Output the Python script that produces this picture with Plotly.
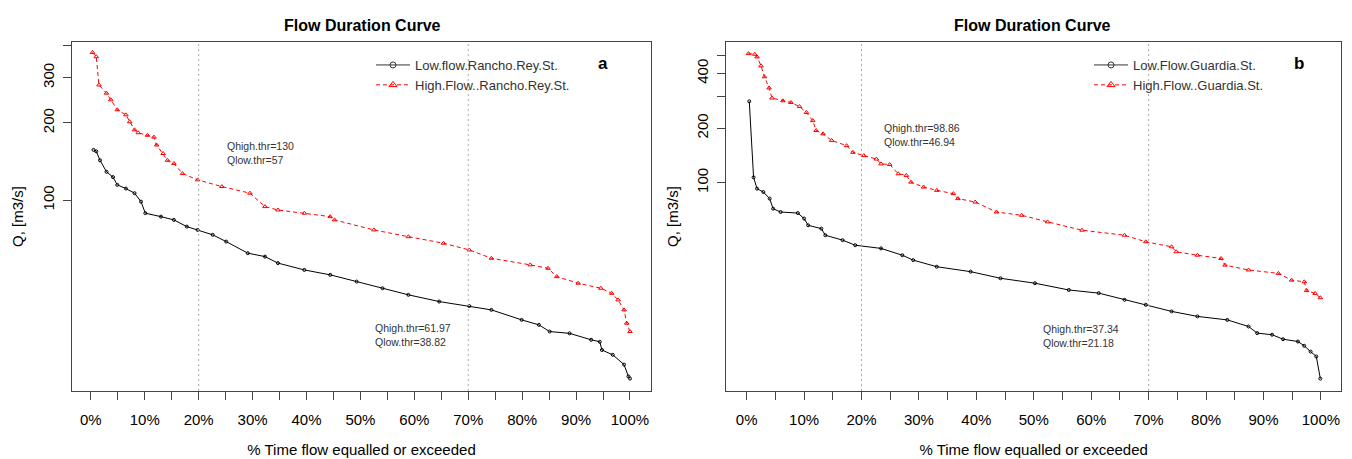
import plotly.graph_objects as go

# ---------------- data ----------------
A_HIGH_PCT = [0.3, 1.0, 1.5, 2.9, 3.7, 4.9, 6.5, 7.2, 8.1, 8.8, 10.5, 11.7, 12.2, 13.4, 14.2, 15.4, 17.0, 19.8,
              24.3, 29.5, 32.3, 34.7, 39.6, 44.4, 45.2, 52.5, 58.9, 65.4, 70.2, 74.3, 81.5, 84.8, 86.4, 90.4,
              94.6, 96.6, 97.8, 98.9, 99.4, 100]
A_HIGH_Q = [376, 362, 281, 261, 246, 225, 215, 202, 188, 183, 179, 176, 164, 152, 143, 139, 127, 120,
            113, 106.5, 94.4, 91.6, 89, 86.3, 83.8, 76.6, 72.1, 68.0, 64.0, 59.4, 56.0, 54.3, 50.4, 47.5,
            45.4, 43.4, 40.9, 37.4, 33.2, 30.8]

A_LOW_PCT = [0.5, 1.0, 1.7, 2.9, 4.1, 4.9, 6.5, 8.1, 9.3, 10.1, 13.0, 15.4, 17.8, 19.8, 22.6, 25.1, 29.1,
             32.3, 34.7, 39.6, 44.4, 49.3, 54.1, 58.9, 64.6, 70.2, 74.3, 79.9, 83.1, 85.1, 88.8, 92.8, 94.4,
             94.8, 96.8, 98.9, 99.7, 100]
A_LOW_Q = [157, 155, 143, 129, 123, 114.7, 111, 106.5, 98.7, 89, 86.3, 83.8, 78.9, 76.6, 73.3, 69.0, 62.2,
           60.3, 56.9, 53.5, 51.2, 48.2, 45.4, 42.8, 40.3, 38.7, 37.4, 34.2, 32.7, 30.8, 30.3, 28.6, 28.1,
           26.1, 25.0, 22.9, 20.6, 20.2]

B_HIGH_PCT = [0.3, 1.4, 1.8, 2.5, 3.1, 3.9, 4.4, 6.3, 7.7, 9.2, 10.4, 11.5, 12.1, 13.3, 14.8, 17.4, 18.5,
              20.4, 22.6, 23.4, 24.9, 26.4, 27.8, 28.6, 30.8, 33.1, 36.0, 36.8, 39.8, 43.5, 47.9, 52.4, 58.4,
              65.8, 69.5, 74.0, 74.8, 78.5, 82.6, 83.3, 87.4, 92.6, 94.9, 97.1, 97.5, 99.0, 99.9]
B_HIGH_Q = [515, 511, 494, 441, 384, 333, 293, 283, 277, 263, 244, 220, 194, 186, 171, 160, 147,
            141, 135, 127, 126, 112, 109.7, 100.7, 94.6, 90.7, 87.0, 81.7, 78.2, 68.9, 66.1, 60.8, 54.7,
            51.3, 47.2, 44.3, 41.6, 39.8, 38.2, 35.1, 33.0, 31.6, 29.0, 28.4, 25.4, 24.5, 23.2]

B_LOW_PCT = [0.45, 1.2, 1.8, 2.9, 4.0, 4.6, 5.9, 8.9, 10.0, 10.7, 13.0, 13.7, 16.7, 18.9, 23.4, 27.1, 29.0,
             33.1, 39.0, 44.2, 50.2, 56.1, 61.3, 65.8, 69.5, 74.0, 78.5, 83.7, 87.4, 88.9, 91.5, 93.4, 96.0,
             97.1, 98.2, 99.2, 99.9]
B_LOW_Q = [281, 107, 92.7, 88.8, 81.7, 71.9, 68.9, 68.0, 63.4, 58.2, 55.8, 51.3, 48.2, 45.2, 43.4, 39.8, 37.4,
           34.4, 32.3, 29.7, 27.9, 25.6, 24.6, 22.6, 21.2, 19.5, 18.3, 17.5, 16.1, 14.8, 14.5, 13.7, 13.3,
           12.6, 11.7, 11.0, 8.3]

NAMES_A = ["Low.flow.Rancho.Rey.St.", "High.Flow..Rancho.Rey.St."]
NAMES_B = ["Low.Flow.Guardia.St.", "High.Flow..Guardia.St."]
THRESH_PCT = [20, 70]
THR_TEXT_A = ["Qhigh.thr=130<br>Qlow.thr=57", "Qhigh.thr=61.97<br>Qlow.thr=38.82"]
THR_TEXT_B = ["Qhigh.thr=98.86<br>Qlow.thr=46.94", "Qhigh.thr=37.34<br>Qlow.thr=21.18"]
PANEL_LABELS = ["a", "b"]
X_TICKS = list(range(0, 101, 5))
X_TICKTEXT = [f"{v}%" if v % 10 == 0 else "" for v in X_TICKS]
YA_TICKS = [100, 200, 300, 400]
YA_TEXT = ["100", "200", "300", ""]
YB_TICKS = [100, 200, 300, 400, 500]
YB_TEXT = ["100", "200", "", "400", ""]

# ---------------- figure ----------------
OFF = 8  # page body margin of the html page
W, H = 1352 - OFF, 459 - OFF
FONT = "Liberation Sans, Arial, sans-serif"
AX = "#444444"


def px(x):
    return (x - OFF) / W


def py(y):
    return 1 - (y - OFF) / H


fig = go.Figure()


def add_panel(xa, ya, low_x, low_y, high_x, high_y, names, legend):
    fig.add_trace(go.Scatter(x=low_x, y=low_y, mode="lines+markers", xaxis=xa, yaxis=ya,
                             line=dict(color="black", width=1),
                             marker=dict(symbol="circle-open", size=3, color="black", line=dict(width=1)),
                             showlegend=False, hoverinfo="x+y"))
    fig.add_trace(go.Scatter(x=high_x, y=high_y, mode="lines+markers", xaxis=xa, yaxis=ya,
                             line=dict(color="red", width=1, dash="4px,3px"),
                             marker=dict(symbol="triangle-up-open", size=4, color="red", line=dict(width=1)),
                             showlegend=False, hoverinfo="x+y"))
    # legend entries
    fig.add_trace(go.Scatter(x=[None], y=[None], mode="lines+markers", xaxis=xa, yaxis=ya, name=names[0],
                             line=dict(color="#333333", width=1),
                             marker=dict(symbol="circle-open", size=6, color="#333333", line=dict(width=1)),
                             legend=legend))
    fig.add_trace(go.Scatter(x=[None], y=[None], mode="lines+markers", xaxis=xa, yaxis=ya, name=names[1],
                             line=dict(color="red", width=1, dash="4px,3px"),
                             marker=dict(symbol="triangle-up-open", size=7, color="red", line=dict(width=1)),
                             legend=legend))


add_panel("x", "y", A_LOW_PCT, A_LOW_Q, A_HIGH_PCT, A_HIGH_Q, NAMES_A, "legend")
add_panel("x2", "y2", B_LOW_PCT, B_LOW_Q, B_HIGH_PCT, B_HIGH_Q, NAMES_B, "legend2")

ydom = [py(391), py(42)]
xdom_a = [px(72), px(651)]
xdom_b = [px(726.3), px(1341)]

xcommon = dict(tickmode="array", tickvals=X_TICKS, ticktext=X_TICKTEXT, ticks="outside", ticklen=8,
               tickcolor=AX, showline=True, linecolor=AX, linewidth=1, mirror=True, showgrid=False,
               zeroline=False, tickfont=dict(size=15, color="black", family=FONT), ticklabelstandoff=7,
               title=dict(text="% Time flow equalled or exceeded", font=dict(size=15, color="black", family=FONT),
                          standoff=17))
ycommon = dict(type="log", ticks="outside", ticklen=8, tickcolor=AX, showline=True, linecolor=AX, linewidth=1,
               mirror=True, showgrid=False, zeroline=False, tickangle=-90,
               tickfont=dict(size=15, color="black", family=FONT), ticklabelstandoff=3,
               title=dict(text="Q, [m3/s]", font=dict(size=15, color="black", family=FONT), standoff=12),
               tickmode="array")

fig.update_layout(
    width=W, height=H, margin=dict(l=0, r=0, t=0, b=0), autosize=False,
    paper_bgcolor="white", plot_bgcolor="white",
    font=dict(family=FONT, color="black"),
    xaxis=dict(domain=xdom_a, range=[-3.5, 103.9], anchor="y", **xcommon),
    yaxis=dict(domain=ydom, range=[1.257, 2.616], anchor="x", tickvals=YA_TICKS, ticktext=YA_TEXT, **ycommon),
    xaxis2=dict(domain=xdom_b, range=[-3.55, 103.5], anchor="y2", **xcommon),
    yaxis2=dict(domain=ydom, range=[0.851, 2.776], anchor="x2", tickvals=YB_TICKS, ticktext=YB_TEXT, **ycommon),
    legend=dict(x=px(371), y=py(50), xanchor="left", yanchor="top", bgcolor="rgba(0,0,0,0)",
                font=dict(size=13, color="#333333", family=FONT), itemwidth=34, tracegroupgap=0),
    legend2=dict(x=px(1089), y=py(50), xanchor="left", yanchor="top", bgcolor="rgba(0,0,0,0)",
                 font=dict(size=13, color="#333333", family=FONT), itemwidth=34, tracegroupgap=0),
    showlegend=True,
)

# threshold lines
for xa in ["x", "x2"]:
    for p in THRESH_PCT:
        fig.add_shape(type="line", xref=xa, yref=("y" if xa == "x" else "y2") + " domain", x0=p, x1=p, y0=0, y1=1,
                      line=dict(color="#aaaaaa", width=1, dash="2px,3px"))

# titles
for cx in [362, 1032]:
    fig.add_annotation(text="<b>Flow Duration Curve</b>", xref="paper", yref="paper", x=px(cx), y=py(25),
                       xanchor="center", yanchor="middle", showarrow=False,
                       font=dict(size=16, color="black", family=FONT))

# panel labels
for lab, lx in zip(PANEL_LABELS, [603, 1299]):
    fig.add_annotation(text=f"<b>{lab}</b>", xref="paper", yref="paper", x=px(lx), y=py(64),
                       xanchor="center", yanchor="middle", showarrow=False,
                       font=dict(size=17, color="black", family=FONT))

# threshold annotations
ann_pos = [(225, 153), (373, 335), (882, 135), (1041, 336)]
for txt, (ax_, ay_) in zip(THR_TEXT_A + THR_TEXT_B, ann_pos):
    fig.add_annotation(text=txt, xref="paper", yref="paper", x=px(ax_), y=py(ay_), xanchor="left",
                       yanchor="middle", align="left", showarrow=False,
                       font=dict(size=10.5, color="#333333", family=FONT))

fig.write_html("out.html")
